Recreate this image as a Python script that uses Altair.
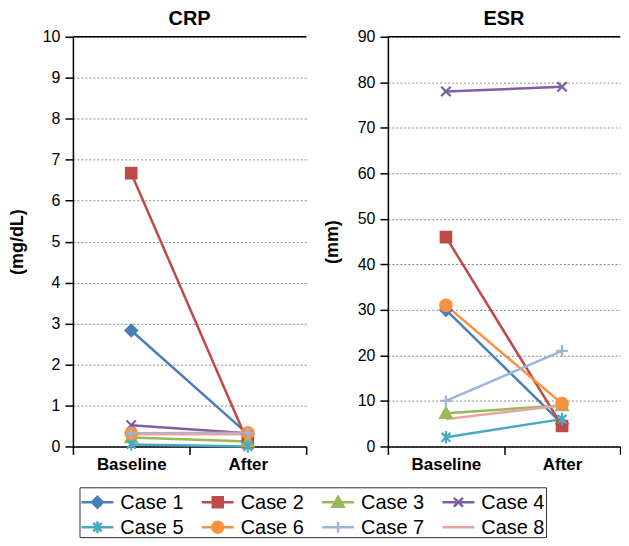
import altair as alt
import pandas as pd

cases = ["Case 1", "Case 2", "Case 3", "Case 4", "Case 5", "Case 6", "Case 7", "Case 8"]
times = ["Baseline", "After"]
crp_baseline = [2.83, 6.67, 0.22, 0.52, 0.05, 0.32, 0.32, 0.30]
crp_after = [0.30, 0.10, 0.12, 0.32, 0.00, 0.33, 0.33, 0.30]
esr_baseline = [30, 46, 7.3, 78, 2, 31, 10, 6]
esr_after = [5, 4.5, 9, 79, 6, 9.4, 21, 9]

colors = ["#4A7EBB", "#BE4B48", "#98B954", "#7D60A0", "#46AAC5", "#F69240", "#9AB6DD", "#E6A3A3"]
markers = [
    "M0,-1.1L1.1,0L0,1.1L-1.1,0Z",
    "M-1,-1H1V1H-1Z",
    "M0,-1.1L1.1,0.9H-1.1Z",
    "M-0.9,-0.9L0.9,0.9M-0.9,0.9L0.9,-0.9",
    "M-0.85,-0.85L0.85,0.85M-0.85,0.85L0.85,-0.85M0,-1.2V1.2",
    "M1.1,0A1.1,1.1,0,1,1,-1.1,0A1.1,1.1,0,1,1,1.1,0Z",
    "M-1.1,0H1.1M0,-1.1V1.1",
    "M0,0",
]
legend_line = "M-3.2,0H3.2"
legend_cols = 4

FONT = "Liberation Sans"


def make_df(base, after):
    return pd.DataFrame({
        "Case": cases * 2,
        "Time": ["Baseline"] * len(cases) + ["After"] * len(cases),
        "Value": list(base) + list(after),
    })


color = alt.Color("Case:N", scale=alt.Scale(domain=cases, range=colors), legend=None)
stroke = alt.Stroke("Case:N", scale=alt.Scale(domain=cases, range=colors), legend=None)


def panel(title, ytitle, base, after, ymax, ystep, width):
    df = make_df(base, after)
    x = alt.X(
        "Time:N",
        sort=times,
        scale=alt.Scale(paddingInner=0, paddingOuter=0),
        axis=alt.Axis(
            title=None, labelAngle=0, tickBand="extent", labelFont=FONT,
            labelFontWeight="bold", labelFontSize=17, labelColor="black",
            domainColor="black", domainWidth=1.5, tickColor="black",
            tickWidth=1.5, tickSize=8, labelPadding=2, grid=False,
        ),
    )
    y = alt.Y(
        "Value:Q",
        scale=alt.Scale(domain=[0, ymax], nice=False),
        axis=alt.Axis(
            title=ytitle, values=list(range(0, ymax + 1, ystep)), grid=True,
            gridDash=[2, 2], gridColor="#8a8a8a", gridWidth=1,
            labelFont=FONT, labelFontSize=16, labelColor="black",
            domainColor="black", domainWidth=1.5, tickColor="black",
            tickWidth=1.5, tickSize=8, labelPadding=5,
            titleFont=FONT, titleFontSize=18, titleFontWeight="bold",
            titleColor="black", titlePadding=16,
        ),
    )
    lines = alt.Chart(df).mark_line(strokeWidth=2.5).encode(x=x, y=y, color=color)
    points = alt.Chart(df).mark_point(filled=True, size=110, strokeWidth=2.2, opacity=1).encode(
        x=x, y=y, color=color, stroke=stroke,
        shape=alt.Shape("Case:N", scale=alt.Scale(domain=cases, range=markers), legend=None),
    )
    top = alt.Chart(pd.DataFrame({"top": [ymax]})).mark_rule(color="black", strokeWidth=1.5).encode(
        y=alt.Y("top:Q")
    )
    return alt.layer(lines, points, top).properties(
        width=width, height=411,
        title=alt.TitleParams(title, font=FONT, fontSize=20, fontWeight="bold", color="black", offset=0),
    )


crp = panel("CRP", "(mg/dL)", crp_baseline, crp_after, 10, 1, 234)
esr = panel("ESR", "(mm)", esr_baseline, esr_after, 90, 10, 233)

# legend panel built from the case list
legend_df = pd.DataFrame({
    "Case": cases,
    "col": [i % legend_cols for i in range(len(cases))],
    "row": [i // legend_cols for i in range(len(cases))],
})
lx = alt.X("col:Q", scale=alt.Scale(domain=[-0.149, 3.728], nice=False, zero=False), axis=None)
ly = alt.Y(
    "row:Q",
    scale=alt.Scale(domain=[-0.6, 1.4], nice=False, zero=False, reverse=True),
    axis=alt.Axis(orient="right", title=None, labels=False, ticks=False, domain=False,
                  grid=False, minExtent=68, maxExtent=68),
)
leg_sym = alt.Chart(legend_df).mark_point(filled=True, size=100, strokeWidth=2.5, opacity=1).encode(
    x=lx, y=ly, color=color, stroke=stroke,
    shape=alt.Shape("Case:N", scale=alt.Scale(domain=cases, range=[legend_line + m for m in markers]), legend=None),
)
leg_txt = alt.Chart(legend_df).mark_text(
    align="left", baseline="middle", dx=23, dy=1, font=FONT, fontSize=20, color="black"
).encode(x=lx, y=ly, text="Case:N")
legend_panel = alt.layer(leg_sym, leg_txt).properties(
    width=468, height=50, view=alt.ViewBackground(stroke="#333333", strokeWidth=1)
)

top_row = alt.hconcat(crp, esr, spacing=16)
chart = alt.vconcat(top_row, legend_panel, spacing=14, center=True).resolve_scale(
    shape="independent"
).properties(
    padding={"left": 0, "top": 0, "right": 0, "bottom": 0}
).configure_view(stroke=None)

chart.save("out.html", embed_options={"renderer": "svg", "actions": False})
